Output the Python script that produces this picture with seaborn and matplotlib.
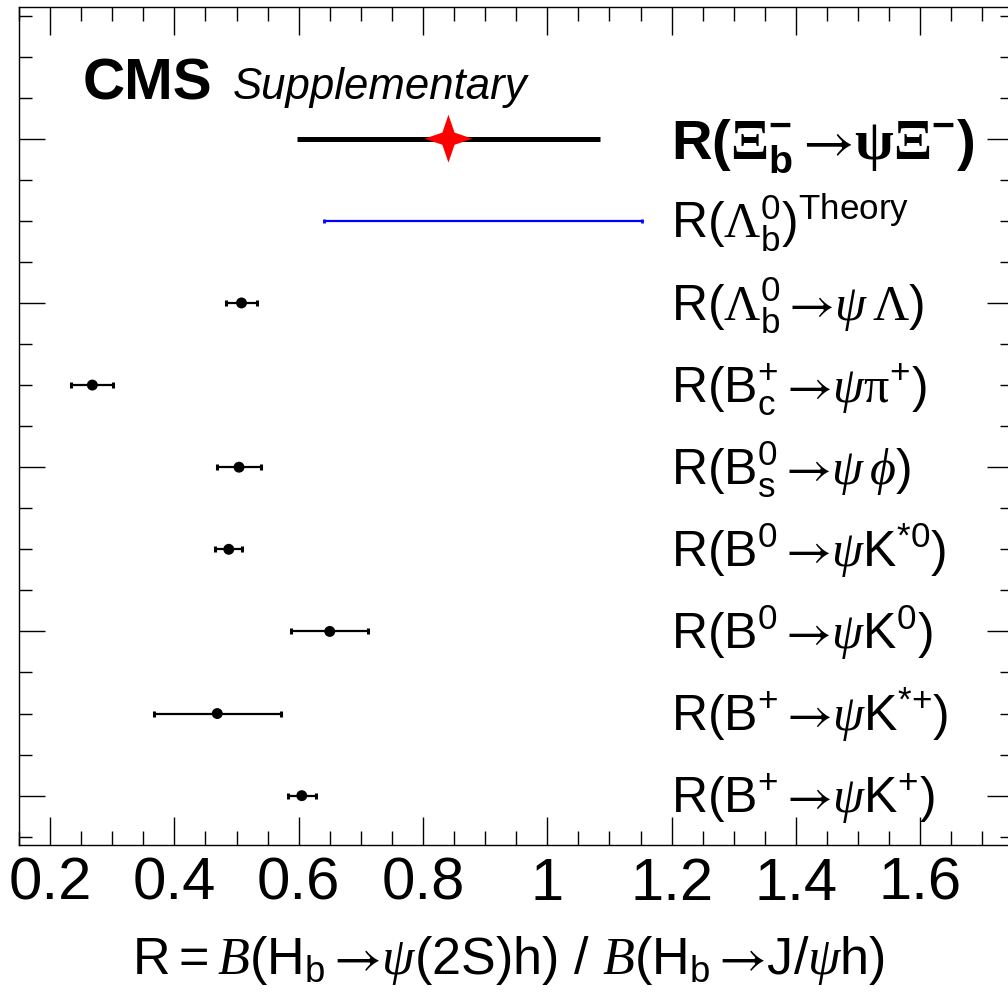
import numpy as np
import pandas as pd
import matplotlib
matplotlib.use("Agg")
import matplotlib.pyplot as plt
import matplotlib.transforms as mtransforms
from matplotlib.ticker import MultipleLocator, FormatStrFormatter
import seaborn as sns

# ---------------- data ----------------
channel_labels = [
    r'$R(B^{+}\,\mathsf{→}\mathcal{\psi}K^{+})$',
    r'$R(B^{+}\,\mathsf{→}\mathcal{\psi}K^{{*}{+}})$',
    r'$R(B^{0}\,\mathsf{→}\mathcal{\psi}K^{0})$',
    r'$R(B^{0}\,\mathsf{→}\mathcal{\psi}K^{{*}0})$',
    r'$R(B_{s}^{0}\,\mathsf{→}\mathcal{\psi}\,\mathcal{\phi})$',
    r'$R(B_{c}^{+}\,\mathsf{→}\mathcal{\psi}\mathtt{\pi}^{+})$',
    r'$R(\mathtt{\Lambda}_{b}^{0}\,\mathsf{→}\mathcal{\psi}\,\mathtt{\Lambda})$',
]
channel_rows = [1, 2, 3, 4, 5, 6, 7]
channel_ratio = [0.605, 0.469, 0.650, 0.4875, 0.504, 0.268, 0.508]
channel_err = [0.0225, 0.102, 0.062, 0.022, 0.035, 0.034, 0.025]

theory_label = r'$R(\mathtt{\Lambda}_{b}^{0})^{Theory}$'
theory_row = 8
theory_ratio = 0.896
theory_err = 0.256

xi_label = (r'$\mathbf{R(}\mathbfit{\Xi}_{\mathbf{b}}^{\mathbf{-}}\,\mathsf{→}'
            r'\mathbfit{\psi\Xi}^{\mathbf{-}}\mathbf{)}$')
xi_row = 9
xi_ratio = 0.841
xi_err = 0.244

x_label = (r'$R=\mathcal{B}(H_{b}\,\mathsf{→}\mathcal{\psi}(2S)h)\ /\ '
           r'\mathcal{B}(H_{b}\,\mathsf{→}J/\mathcal{\psi}h)$')

# ---------------- style ----------------
sns.set_theme(style="ticks")
plt.rcParams.update({
    "font.family": ["Liberation Sans", "DejaVu Sans"],
    "mathtext.fontset": "custom",
    "mathtext.rm": "Liberation Sans",
    "mathtext.it": "Liberation Sans:italic",
    "mathtext.bf": "Liberation Sans:bold",
    "mathtext.sf": "STIXGeneral",
    "mathtext.tt": "Liberation Serif",
    "mathtext.bfit": "Liberation Serif:bold",
    "mathtext.cal": "Liberation Serif:italic",
    "mathtext.default": "rm",
    "axes.edgecolor": "black",
    "axes.linewidth": 1.0,
    "text.color": "black",
    "xtick.color": "black",
    "ytick.color": "black",
    "axes.facecolor": "white",
    "figure.facecolor": "white",
})

fig = plt.figure(figsize=(10.08, 10.01), dpi=100)
ax = fig.add_axes([19 / 1008, 156.3 / 1001, 994.4 / 1008, 837.4 / 1001])

df = pd.DataFrame({"ratio": channel_ratio, "err": channel_err, "row": channel_rows})

# measurements
ax.errorbar(df["ratio"], df["row"], xerr=df["err"], fmt="none", ecolor="black",
            elinewidth=1.6, capsize=2, capthick=2.2, zorder=2)
sns.scatterplot(data=df, x="ratio", y="row", ax=ax, color="black", s=62,
                edgecolor="none", zorder=3, legend=False)

# theory
ax.errorbar([theory_ratio], [theory_row], xerr=[theory_err], fmt="none",
            ecolor="#0000ff", elinewidth=1.6, capsize=1.5, capthick=2, zorder=2)

# Xi_b result (four-pointed star marker shape)
ang = np.linspace(0, 2 * np.pi, 9)[:-1]
rad = np.array([1.0, 0.36] * 4)
star = np.column_stack([rad * np.cos(ang), rad * np.sin(ang)])
ax.errorbar([xi_ratio], [xi_row], xerr=[xi_err], fmt="none", ecolor="black",
            elinewidth=3.6, capsize=0, zorder=2)
xi_df = pd.DataFrame({"ratio": [xi_ratio], "row": [xi_row]})
sns.scatterplot(data=xi_df, x="ratio", y="row", ax=ax, color="red", marker=star,
                s=34.5 ** 2, edgecolor="none", zorder=4, legend=False)

# axes
ax.set_xlim(0.15, 1.75)
ax.set_ylim(0.403, 10.6)
ax.set_xlabel("")
ax.set_ylabel("")
ax.xaxis.set_major_locator(MultipleLocator(0.2))
ax.xaxis.set_minor_locator(MultipleLocator(0.05))
ax.xaxis.set_major_formatter(FormatStrFormatter("%g"))
ax.yaxis.set_major_locator(MultipleLocator(2, offset=1))
ax.yaxis.set_minor_locator(MultipleLocator(0.5))
ax.tick_params(which="both", direction="in", top=True, right=True,
               labelleft=False, width=1.0)
ax.tick_params(axis="x", which="major", length=20, labelsize=43, pad=8.5)
ax.tick_params(axis="x", which="minor", length=10)
ax.tick_params(axis="y", which="major", length=18.7)
ax.tick_params(axis="y", which="minor", length=9.4)
for s in ax.spines.values():
    s.set_visible(True)
    s.set_linewidth(1.0)
    s.set_color("black")

# labels on the right
label_x = 1.199
for lab, row in zip(channel_labels, channel_rows):
    fs = 36
    tr = mtransforms.offset_copy(ax.transData, fig=fig, y=-0.352 * fs, units="points")
    ax.text(label_x, row, lab, fontsize=fs, va="baseline", ha="left", transform=tr)
fs = 36
tr = mtransforms.offset_copy(ax.transData, fig=fig, y=-0.352 * fs, units="points")
ax.text(label_x, theory_row, theory_label, fontsize=fs, va="baseline", ha="left", transform=tr)
fs = 40.5
tr = mtransforms.offset_copy(ax.transData, fig=fig, y=-0.358 * fs, units="points")
ax.text(label_x, xi_row, xi_label, fontsize=fs, va="baseline", ha="left", transform=tr)

# CMS label
fig.text(83 / 1008, 1 - 99.3 / 1001, "CMS", fontsize=42, fontweight="bold", va="baseline")
fig.text(233 / 1008, 1 - 99 / 1001, "Supplementary", fontsize=31.5, style="italic", va="baseline")

# x-axis title
fig.text(509 / 1008, 1 - 974 / 1001, x_label, fontsize=37.5, ha="center", va="baseline")

fig.savefig("out.png", dpi=100)
